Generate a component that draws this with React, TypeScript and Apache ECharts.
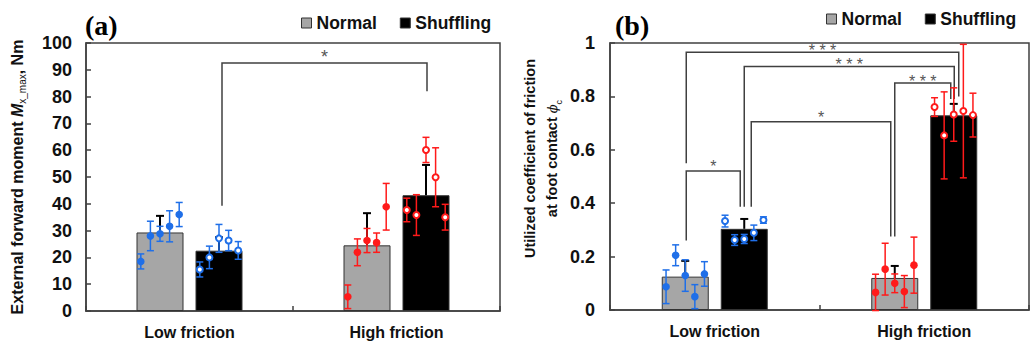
import React, { useEffect, useRef } from 'react';
import * as echarts from 'echarts';

// ---------- data ----------
const categories = ['Low friction', 'High friction'];
const seriesNames = ['Normal', 'Shuffling'];

// Panel (a): external forward moment Mx_max (Nm)
const momentNormalMean = [29.3, 24.5];
const momentNormalSD = [6.2, 12.0];
const momentShufflingMean = [22.5, 43.2];
const momentShufflingSD = [5.0, 11.3];

const momentNormalLowMean = [18.5, 28.0, 28.8, 31.6, 36.0];
const momentNormalLowSD = [2.8, 5.5, 2.8, 5.8, 4.5];
const momentShufflingLowMean = [15.5, 20.0, 27.1, 26.3, 22.6];
const momentShufflingLowSD = [2.8, 4.2, 5.2, 3.8, 3.3];
const momentNormalHighMean = [5.3, 21.9, 26.3, 25.5, 38.9];
const momentNormalHighSD = [4.4, 5.0, 4.5, 3.6, 8.7];
const momentShufflingHighMean = [37.7, 35.8, 60.1, 49.9, 35.0];
const momentShufflingHighSD = [4.4, 7.6, 4.7, 11.0, 4.8];

// Panel (b): utilized coefficient of friction
const frictionNormalMean = [0.125, 0.12];
const frictionNormalSD = [0.059, 0.045];
const frictionShufflingMean = [0.304, 0.729];
const frictionShufflingSD = [0.037, 0.043];

const frictionNormalLowMean = [0.087, 0.205, 0.129, 0.05, 0.135];
const frictionNormalLowSD = [0.063, 0.039, 0.059, 0.045, 0.046];
const frictionShufflingLowMean = [0.333, 0.262, 0.266, 0.289, 0.337];
const frictionShufflingLowSD = [0.022, 0.02, 0.017, 0.029, 0.012];
const frictionNormalHighMean = [0.066, 0.153, 0.1, 0.069, 0.168];
const frictionNormalHighSD = [0.068, 0.097, 0.035, 0.06, 0.105];
const frictionShufflingHighMean = [0.76, 0.654, 0.732, 0.745, 0.73];
const frictionShufflingHighSD = [0.035, 0.163, 0.1, 0.25, 0.082];

// Significance brackets: [fromCategory, fromSeries, fromY, topY, toCategory, toSeries, toY]
const momentBrackets = [[0, 1, 39.3, 92.5, 1, 1, 82]];
const momentBracketLabels = ['*'];
const frictionBrackets = [
  [0, 0, 0.55, 0.965, 1, 1, 0.8],
  [0, 1, 0.387, 0.912, 1, 1, 0.79],
  [0, 1, 0.387, 0.705, 1, 0, 0.275],
  [1, 0, 0.275, 0.85, 1, 1, 0.79],
  [0, 0, 0.26, 0.521, 0, 1, 0.387],
];
const frictionBracketLabels = ['* * *', '* * *', '*', '* * *', '*'];

// ---------- style constants ----------
const FONT = 'Liberation Sans, Arial, sans-serif';
const SERIF = 'Liberation Serif, Times New Roman, serif';
const BAR_W = 47;
const BAR_GAP_PX = 12;
const SIDE_OFF = (BAR_W + BAR_GAP_PX) / 2;
const POINT_STEP = 9.6;
const FRAME = '#404040';
const BLUE = '#1f6fe8';
const RED = '#ff1a1a';
const GRAY_BAR = '#a6a6a6';
const STAR = '#555555';
const momentNudge = [[3, 1]];
const frictionNudge = [[1, 5], [0, 0.5], [7, -4], [0, -3], [1, -4]];

const sideOffset = (s: number) => (s === 0 ? -SIDE_OFF : SIDE_OFF);

function barSeries(name: string, gi: number, data: number[], color: string) {
  return {
    type: 'bar',
    name,
    xAxisIndex: gi,
    yAxisIndex: gi,
    data,
    barWidth: BAR_W,
    barGap: `${(BAR_GAP_PX / BAR_W) * 100}%`,
    itemStyle: { color, borderColor: '#333', borderWidth: 1 },
    z: 2,
  };
}

function barErrSeries(gi: number, side: number, means: number[], sds: number[]) {
  return {
    type: 'custom',
    name: `err-${gi}-${side}`,
    xAxisIndex: gi,
    yAxisIndex: gi,
    silent: true,
    z: 4,
    data: means.map((m, i) => [i, m, sds[i]]),
    renderItem: (_p: any, api: any) => {
      const c = api.value(0);
      const m = api.value(1);
      const sd = api.value(2);
      const p0 = api.coord([c, m]);
      const p1 = api.coord([c, m + sd]);
      const x = p0[0] + sideOffset(side);
      const st = { stroke: '#000', lineWidth: 2 };
      return {
        type: 'group',
        children: [
          { type: 'line', shape: { x1: x, y1: p0[1], x2: x, y2: p1[1] }, style: st },
          { type: 'line', shape: { x1: x - 4, y1: p1[1], x2: x + 4, y2: p1[1] }, style: st },
        ],
      };
    },
  };
}

function pointSeries(gi: number, cat: number, side: number, means: number[], sds: number[], color: string, open: boolean) {
  return {
    type: 'custom',
    name: `pts-${gi}-${cat}-${side}`,
    xAxisIndex: gi,
    yAxisIndex: gi,
    silent: true,
    z: 6,
    data: means.map((m, i) => [cat, m, sds[i], i]),
    renderItem: (_p: any, api: any) => {
      const c = api.value(0);
      const m = api.value(1);
      const sd = api.value(2);
      const slot = api.value(3);
      const p = api.coord([c, m]);
      const x = p[0] + sideOffset(side) + (slot - 2) * POINT_STEP;
      const yT = api.coord([c, m + sd])[1];
      const yB = api.coord([c, m - sd])[1];
      const ls = { stroke: color, lineWidth: 1.5 };
      return {
        type: 'group',
        children: [
          { type: 'line', shape: { x1: x, y1: yT, x2: x, y2: yB }, style: ls },
          { type: 'line', shape: { x1: x - 3.5, y1: yT, x2: x + 3.5, y2: yT }, style: ls },
          { type: 'line', shape: { x1: x - 3.5, y1: yB, x2: x + 3.5, y2: yB }, style: ls },
          {
            type: 'circle',
            shape: { cx: x, cy: p[1], r: open ? 3 : 3.8 },
            style: open ? { fill: '#fff', stroke: color, lineWidth: 2 } : { fill: color },
          },
        ],
      };
    },
  };
}

function bracketSeries(gi: number, brackets: number[][], labels: string[], nudges: number[][], fontSize: number, lifts: number[]) {
  return {
    type: 'custom',
    name: `sig-${gi}`,
    xAxisIndex: gi,
    yAxisIndex: gi,
    silent: true,
    z: 3,
    data: brackets.map((b) => [b[0], b[3], b[1], b[2], b[4], b[5], b[6]]),
    renderItem: (params: any, api: any) => {
      const i = params.dataIndex;
      const fc = api.value(0), top = api.value(1), fs = api.value(2), fy = api.value(3);
      const tc = api.value(4), ts = api.value(5), ty = api.value(6);
      const xL = api.coord([fc, top])[0] + sideOffset(fs) + nudges[i][0];
      const xR = api.coord([tc, top])[0] + sideOffset(ts) + nudges[i][1];
      const yTop = api.coord([fc, top])[1];
      const yL = api.coord([fc, fy])[1];
      const yR = api.coord([tc, ty])[1];
      const lift = labels[i].length > 1 ? lifts[1] : lifts[0];
      return {
        type: 'group',
        children: [
          {
            type: 'polyline',
            shape: { points: [[xL, yL], [xL, yTop], [xR, yTop], [xR, yR]] },
            style: { stroke: FRAME, lineWidth: 1.5, fill: 'none' },
          },
          {
            type: 'text',
            x: (xL + xR) / 2,
            y: yTop - lift,
            style: {
              text: labels[i],
              fill: STAR,
              font: `${fontSize}px ${FONT}`,
              align: 'center',
              verticalAlign: 'middle',
            },
          },
        ],
      };
    },
  };
}

const catAxis = (gi: number) => ({
  type: 'category',
  gridIndex: gi,
  data: categories,
  boundaryGap: true,
  axisLine: { show: true, lineStyle: { color: FRAME, width: 1.5 } },
  axisTick: { show: true, inside: true, length: 5, interval: 0, lineStyle: { color: FRAME, width: 1.5 } },
  axisLabel: { margin: 13, fontSize: 16, fontWeight: 'bold', color: '#111', fontFamily: FONT, interval: 0 },
  splitLine: { show: false },
});

const valAxisBase = {
  type: 'value',
  axisLine: { show: true, lineStyle: { color: FRAME, width: 1.5 } },
  axisTick: { show: true, inside: true, length: 5, lineStyle: { color: FRAME, width: 1.5 } },
  splitLine: { show: false },
  nameLocation: 'middle',
  nameRotate: 90,
};

const subRich = {
  t: { fontSize: 16, fontWeight: 'bold', fontFamily: FONT, color: '#111', lineHeight: 20 },
  i: { fontSize: 16, fontWeight: 'bold', fontStyle: 'italic', fontFamily: FONT, color: '#111', lineHeight: 20 },
  s: { fontSize: 10, fontFamily: FONT, color: '#111', lineHeight: 20, verticalAlign: 'bottom' },
  t2: { fontSize: 14.5, fontWeight: 'bold', fontFamily: FONT, color: '#111', lineHeight: 22, align: 'center' },
  p: { fontSize: 13, fontStyle: 'italic', fontFamily: 'DejaVu Serif, serif', color: '#111', lineHeight: 22, align: 'center' },
  s2: { fontSize: 9, fontFamily: FONT, color: '#111', lineHeight: 22, verticalAlign: 'bottom', align: 'center' },
};

export default function App() {
  const ref = useRef<HTMLDivElement>(null);
  useEffect(() => {
    if (!ref.current) return;
    const chart = echarts.init(ref.current, undefined, { renderer: 'svg' });
    const legendCommon = {
      data: seriesNames,
      icon: 'rect',
      itemWidth: 10,
      itemHeight: 10,
      itemGap: 23,
      padding: 0,
      selectedMode: false,
      itemStyle: { borderColor: '#333', borderWidth: 1 },
      textStyle: { fontSize: 17.5, fontWeight: 'bold', color: '#111', fontFamily: FONT },
    };
    chart.setOption({
      animation: false,
      backgroundColor: '#fff',
      title: [
        { text: '(a)', left: 85, top: 11, padding: 0, textStyle: { fontFamily: SERIF, fontSize: 28, fontWeight: 'bold', color: '#000' } },
        { text: '(b)', left: 615, top: 11, padding: 0, textStyle: { fontFamily: SERIF, fontSize: 28, fontWeight: 'bold', color: '#000' } },
      ],
      legend: [
        { ...legendCommon, left: 301, top: 14 },
        { ...legendCommon, left: 826, top: 10 },
      ],
      grid: [
        { left: 86, top: 43, width: 414, height: 268, show: true, borderColor: FRAME, borderWidth: 1.5 },
        { left: 610, top: 43, width: 419, height: 267, show: true, borderColor: FRAME, borderWidth: 1.5 },
      ],
      xAxis: [catAxis(0), catAxis(1)],
      yAxis: [
        {
          ...valAxisBase,
          gridIndex: 0,
          min: 0,
          max: 100,
          interval: 10,
          axisLabel: { margin: 14, fontSize: 18, fontWeight: 'bold', color: '#111', fontFamily: FONT },
          name: '{t|External forward moment }{i|M}{s|x_max}{t|, Nm}',
          nameGap: 59,
          nameTextStyle: { rich: subRich },
        },
        {
          ...valAxisBase,
          gridIndex: 1,
          min: 0,
          max: 1,
          interval: 0.2,
          axisLabel: { margin: 15, fontSize: 18, fontWeight: 'bold', color: '#111', fontFamily: FONT },
          name: '{t2|Utilized coefficient of friction}\n{t2|at foot contact }{p|ϕ}{s2|c}',
          nameGap: 47,
          nameTextStyle: { rich: subRich, align: 'center', padding: [0, 0, 0, 36] },
        },
      ],
      series: [
        barSeries('Normal', 0, momentNormalMean, GRAY_BAR),
        barSeries('Shuffling', 0, momentShufflingMean, '#000'),
        barSeries('Normal', 1, frictionNormalMean, GRAY_BAR),
        barSeries('Shuffling', 1, frictionShufflingMean, '#000'),
        bracketSeries(0, momentBrackets, momentBracketLabels, momentNudge, 18, [6, 6]),
        bracketSeries(1, frictionBrackets, frictionBracketLabels, frictionNudge, 16, [4.5, 1.5]),
        barErrSeries(0, 0, momentNormalMean, momentNormalSD),
        barErrSeries(0, 1, momentShufflingMean, momentShufflingSD),
        barErrSeries(1, 0, frictionNormalMean, frictionNormalSD),
        barErrSeries(1, 1, frictionShufflingMean, frictionShufflingSD),
        pointSeries(0, 0, 0, momentNormalLowMean, momentNormalLowSD, BLUE, false),
        pointSeries(0, 0, 1, momentShufflingLowMean, momentShufflingLowSD, BLUE, true),
        pointSeries(0, 1, 0, momentNormalHighMean, momentNormalHighSD, RED, false),
        pointSeries(0, 1, 1, momentShufflingHighMean, momentShufflingHighSD, RED, true),
        pointSeries(1, 0, 0, frictionNormalLowMean, frictionNormalLowSD, BLUE, false),
        pointSeries(1, 0, 1, frictionShufflingLowMean, frictionShufflingLowSD, BLUE, true),
        pointSeries(1, 1, 0, frictionNormalHighMean, frictionNormalHighSD, RED, false),
        pointSeries(1, 1, 1, frictionShufflingHighMean, frictionShufflingHighSD, RED, true),
      ],
    });
    return () => chart.dispose();
  }, []);
  return <div ref={ref} style={{ position: 'fixed', left: 0, top: 0, width: 1030, height: 344 }} />;
}
